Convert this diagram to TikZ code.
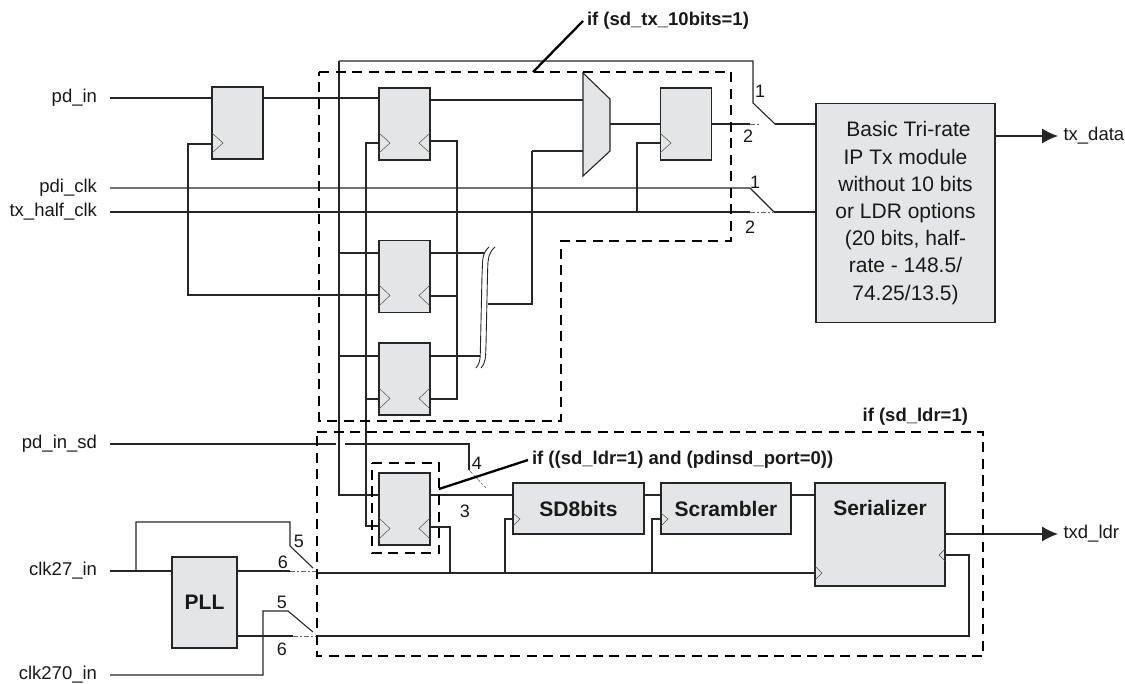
\documentclass[tikz,border=0pt]{standalone}
\usepackage{fontspec}
\usetikzlibrary{arrows.meta}
\setmainfont{Liberation Sans}

\begin{document}
\begin{tikzpicture}[x=1pt, y=-1pt, line width=1.1pt, color=black!85,
  portlabel/.style={anchor=east, inner sep=0pt, outer xsep=13pt, text=black!90, font=\fontsize{18.5}{20}\selectfont},
  outlabel/.style={anchor=west, inner sep=0pt, text=black!90, font=\fontsize{18.5}{20}\selectfont},
  flopbox/.style={draw, fill=boxgray, minimum width=51pt, minimum height=72pt, inner sep=0pt},
  blockbox/.style={draw, fill=boxgray, inner sep=0pt, text=black!90, font=\fontsize{21}{24}\selectfont\bfseries},
  clkmark/.style={line width=0.5pt, black!70},
  groupline/.style={line width=2.7pt, black, dash pattern=on 10pt off 6.5pt},
  leader/.style={line width=2.3pt, black},
  openend/.style={line width=0.6pt, black!60, dash pattern=on 5pt off 2pt on 2pt off 2pt},
  pinnum/.style={inner sep=0pt, text=black!90, font=\fontsize{18}{20}\selectfont},
  condition/.style={inner sep=0pt, outer xsep=4pt, anchor=west, text=black!90, font=\fontsize{18.5}{20}\selectfont\bfseries},
  outarrow/.style={-{Latex[length=16pt,width=15pt]}}]
\definecolor{boxgray}{HTML}{E4E5E7}
\useasboundingbox (0,0) rectangle (1125,684);

% ports
\node[portlabel] (pdin) at (110,98) {pd\_in};
\node[portlabel] (pdiclk) at (110,188) {pdi\_clk};
\node[portlabel] (txhalf) at (110,212) {tx\_half\_clk};
\node[portlabel] (pdinsd) at (110,444) {pd\_in\_sd};
\node[portlabel] (clkin) at (110,571) {clk27\_in};
\node[portlabel] (clkten) at (110,675) {clk270\_in};

% flops and blocks
\node[flopbox] (ffa) at (237.5,123) {};
\node[flopbox] (ffb) at (404.5,124) {};
\node[flopbox] (ffc) at (404.5,276.5) {};
\node[flopbox] (ffd) at (404.5,379) {};
\node[flopbox] (ffe) at (404.5,509) {};
\node[flopbox] (fff) at (686,124) {};
\node[blockbox, minimum width=131pt, minimum height=51pt] (sdbits) at (578.5,508.5) {SD8bits};
\node[blockbox, minimum width=130pt, minimum height=51pt] (scram) at (726,508.5) {Scrambler};
\node[blockbox, minimum width=130pt, minimum height=103pt] (serial) at (880,534.5) {};
\node[blockbox, minimum width=65pt, minimum height=91pt] (pll) at (204.5,602.5) {PLL};
\node[blockbox, minimum width=179pt, minimum height=219.5pt, align=center, font=\fontsize{21}{27.2}\selectfont] (txmod) at (905.5,213)
  {\hspace*{6pt}Basic Tri-rate\\IP Tx module\\without 10 bits\\or LDR options\\(20 bits, half-\\rate - 148.5/\\74.25/13.5)};
\node[blockbox, draw=none, fill=none] (seriallabel) at (880,508) {Serializer};

% mux
\path (583,73) coordinate (muxa);
\path (610,99) coordinate (muxb);
\path (610,151) coordinate (muxc);
\path (583,176) coordinate (muxd);
\filldraw[fill=boxgray] (muxa) -- (muxb) -- (muxc) -- (muxd) -- cycle;

% clock pins
\path (212,144) coordinate (cka);
\path (379,143) coordinate (ckb);
\path (430,141) coordinate (ckbr);
\path (379,295) coordinate (ckc);
\path (430,296) coordinate (ckcr);
\path (379,399) coordinate (ckd);
\path (430,399) coordinate (ckdr);
\path (379,526) coordinate (cke);
\path (430,527) coordinate (ckel);
\path (660,143) coordinate (ckf);
\path (513,519) coordinate (cksd);
\path (661,519) coordinate (cksc);
\path (815,573) coordinate (cksl);
\path (945,555) coordinate (cksr);

% upper wires
\path (339,61) coordinate (topa);
\path (753,61) coordinate (topb);
\path (753,103) coordinate (swa);
\path (775,124) coordinate (swb);
\path (750,124) coordinate (swc);
\path (760,124) coordinate (swd);
\path (750,188) coordinate (swe);
\path (774,212) coordinate (swf);
\path (750,212) coordinate (swg);
\path (773,212) coordinate (swh);
\path (188,295) coordinate (lft);
\path (366,188) coordinate (tapa);
\path (637,212) coordinate (tapb);
\path (457,141) coordinate (tapc);
\path (457,399) coordinate (tapd);
\path (488,304) coordinate (orout);
\path (532,151) coordinate (muxin);

\draw (pdin.east) -- (ffa.west |- pdin.east);
\draw (ffa.east |- pdin.east) -- (ffb.west |- pdin.east);
\draw (cka) -| (lft) -- (ckc);
\draw (pdiclk.east) -- (swe) -- (swf);
\draw (txhalf.east) -- (swg);
\draw[openend] (swg) -- (swh);
\draw (swf) -- (txmod.west |- swf);
\draw (ckb) -| (tapa);
\draw (ckbr) -- (tapc) -- (tapd) -- (ckdr);
\draw (ckcr) -- (tapc |- ckcr);
\draw (ffb.east |- 0,100) -- (muxa |- 0,100);
\draw (muxin) -- (muxc -| muxa);
\draw (muxin) |- (orout);
\draw (muxb |- 0,124) -- (fff.west |- 0,124);
\draw (ckf) -| (tapb);
\draw (fff.east |- 0,124) -- (swc);
\draw[openend] (swc) -- (swd);
\draw (swb) -- (txmod.west |- swb);
\draw (topa) -- (topb) -- (swa) -- (swb);
\draw (topa) |- (ffe.west |- 0,495);
\draw (topa |- 0,253) -- (ffc.west |- 0,253);
\draw (topa |- 0,356) -- (ffd.west |- 0,356);
\draw (tapa) |- (cke);
\draw (tapa |- ckd) -- (ckd);
\draw[outarrow] (txmod.east |- 0,136) -- (1058,136);

% or gate
\draw (ffc.east |- 0,253) -- (484,253);
\draw (ffd.east |- 0,356) -- (480,356);
\draw[line width=0.9pt] (489,247) .. controls (481,254) and (483,262) .. (482,275) -- (480.5,345) .. controls (480,358) and (481,362) .. (476,368);
\draw[line width=0.9pt] (495,247) .. controls (487,254) and (488,262) .. (487.5,275) -- (486,345) .. controls (485.5,358) and (486,362) .. (481,368);

% lower wires
\path (336,444) coordinate (gapa);
\path (345,444) coordinate (gapb);
\path (469,444) coordinate (sdb);
\path (469,470) coordinate (sdc);
\path (486,488) coordinate (sdd);
\draw (pdinsd.east) -- (gapa);
\draw (gapb) -- (sdb) -- (sdc);
\draw[openend] (sdc) -- (sdd);
\draw (ffe.east |- 0,495) -- (sdbits.west |- 0,495);
\draw (sdbits.east |- 0,495) -- (scram.west |- 0,495);
\draw (scram.east |- 0,495) -- (serial.west |- 0,495);
\path (136,522) coordinate (loopa);
\path (290,522) coordinate (loopb);
\path (290,546) coordinate (loopc);
\path (313,568) coordinate (loopd);
\path (290,571) coordinate (plla);
\path (316,571) coordinate (pllb);
\path (316,573) coordinate (pllc);
\path (293,636) coordinate (plld);
\path (316,636) coordinate (plle);
\path (969,636) coordinate (pllf);
\path (263,611) coordinate (tena);
\path (288,611) coordinate (tenb);
\path (313,632) coordinate (tenc);
\draw (clkin.east) -- (pll.west |- clkin.east);
\draw (loopa |- clkin.east) -- (loopa) -- (loopb) -- (loopc) -- (loopd);
\draw (pll.east |- plla) -- (plla);
\draw[openend] (plla) -- (pllb);
\draw (pllc) -- (cksl);
\draw (ckel) -| (pllc -| 450,0);
\draw (cksd) -| (pllc -| 505,0);
\draw (cksc) -| (pllc -| 652,0);
\draw (pll.east |- plld) -- (plld);
\draw[openend] (plld) -- (plle);
\draw (plle) -- (pllf) |- (cksr);
\draw (clkten.east) -| (tena) -- (tenb) -- (tenc);
\draw[outarrow] (serial.east |- 0,534) -- (1058,534);

% clock marks
\draw[clkmark] (212,133) -- (223,143) -- (212,153);
\draw[clkmark] (379,133) -- (390,143) -- (379,153);
\draw[clkmark] (430,133) -- (419,143) -- (430,153);
\draw[clkmark] (379,285) -- (390,295.5) -- (379,306);
\draw[clkmark] (430,285) -- (419,295.5) -- (430,306);
\draw[clkmark] (379,388) -- (390,398.5) -- (379,409);
\draw[clkmark] (430,388) -- (419,398.5) -- (430,409);
\draw[clkmark] (379,518) -- (390,528.5) -- (379,539);
\draw[clkmark] (430,518) -- (419,528.5) -- (430,539);
\draw[clkmark] (660,133) -- (671,143) -- (660,153);
\draw[clkmark] (513,513) -- (520,519) -- (513,526);
\draw[clkmark] (661,513) -- (668,519) -- (661,526);
\draw[clkmark] (815,566) -- (822,573) -- (815,580);
\draw[clkmark] (945,549) -- (939,555) -- (945,561);

% pin numbers
\node[pinnum] (numa) at (760,91) {1};
\node[pinnum] (numb) at (748,136) {2};
\node[pinnum] (numc) at (755,182) {1};
\node[pinnum] (numd) at (750,227) {2};
\node[pinnum] (nume) at (477,463) {4};
\node[pinnum] (numf) at (465,511) {3};
\node[pinnum] (numg) at (299,541) {5};
\node[pinnum] (numh) at (283,562) {6};
\node[pinnum] (numi) at (282,602) {5};
\node[pinnum] (numj) at (282,649) {6};

% output names
\node[outlabel] (txdata) at (1063,136) {tx\_data};
\node[outlabel] (txdldr) at (1063,534) {txd\_ldr};

% condition groups
\draw[groupline] (319,72) -- (731,72) -- (731,241) -- (561,241) -- (561,421) -- (319,421) -- cycle;
\draw[groupline] (317,432) -- (983,432) -- (983,656) -- (317,656) -- cycle;
\draw[groupline] (372,463) -- (439,463) -- (439,553) -- (372,553) -- cycle;
\node[condition] (iftx) at (583,21) {if (sd\_tx\_10bits=1)};
\node[condition, anchor=east] (ifldr) at (972,417) {if (sd\_ldr=1)};
\node[condition] (ifport) at (528,460) {if ((sd\_ldr=1) and (pdinsd\_port=0))};
\draw[leader] (533,72) -- (iftx.west);
\draw[leader] (439,489) -- (ifport.west);
\end{tikzpicture}
\end{document}
